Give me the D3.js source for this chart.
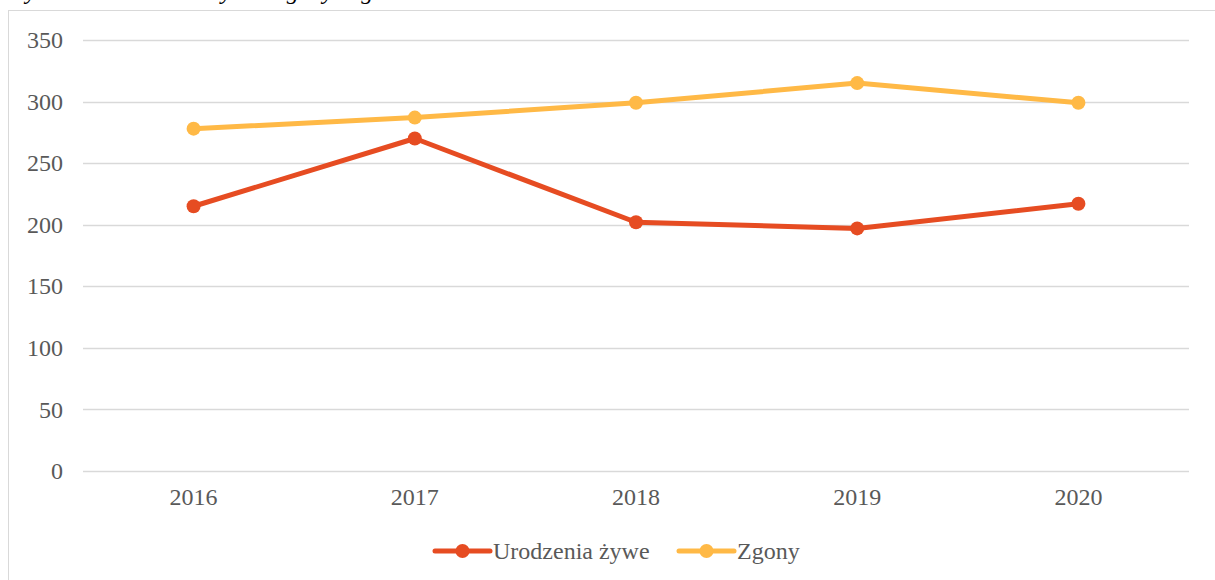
<!DOCTYPE html>
<html>
<head>
<meta charset="utf-8">
<script src="https://cdn.jsdelivr.net/npm/d3@7"></script>
<style>
  body { margin: 0; background: #fff; }
  text { font-family: "Liberation Serif", "Times New Roman", serif; }
</style>
</head>
<body>
<script>
// data
var years = ["2016", "2017", "2018", "2019", "2020"];
var urodzenia = [215, 270, 202, 197, 217];
var zgony = [278, 287, 299, 315, 299];
var yTicks = [0, 50, 100, 150, 200, 250, 300, 350];
var seriesNames = ["Urodzenia żywe", "Zgony"];
var colors = ["#E64C22", "#FFB946"];

var W = 1215, H = 580;
var svg = d3.select("body").append("svg")
  .attr("width", W)
  .attr("height", H);

// cut-off caption above the chart box
svg.append("text")
  .attr("x", 8)
  .attr("y", -1)
  .style("font-style", "italic")
  .style("font-size", "24px")
  .attr("fill", "#000")
  .text("Wykres 1. Urodzenia żywe i zgony w gminie w latach 2016–2020");

// chart border (runs off right and bottom)
svg.append("rect")
  .attr("x", 8.5)
  .attr("y", 10.5)
  .attr("width", W + 10)
  .attr("height", H + 10)
  .attr("fill", "#fff")
  .attr("stroke", "#d9d9d9");

var plotLeft = 83, plotRight = 1189, plotTop = 40, plotBottom = 471;

var x = d3.scaleBand().domain(years).range([plotLeft, plotRight]);
var y = d3.scaleLinear().domain([0, 350]).range([plotBottom, plotTop]);

// gridlines
svg.append("g")
  .selectAll("line")
  .data(yTicks)
  .enter()
  .append("line")
  .attr("x1", plotLeft)
  .attr("x2", plotRight)
  .attr("y1", function(d) { return Math.round(y(d)) + 0.5; })
  .attr("y2", function(d) { return Math.round(y(d)) + 0.5; })
  .attr("stroke", "#d9d9d9")
  .attr("stroke-width", 1.5);

// y axis labels
var yAxis = svg.append("g")
  .attr("transform", "translate(" + (plotLeft - 20) + ",0)")
  .call(d3.axisLeft(y).tickValues(yTicks).tickSize(0).tickPadding(0));
yAxis.select(".domain").remove();
yAxis.selectAll("text")
  .style("font-family", "'Liberation Serif', 'Times New Roman', serif")
  .style("font-size", "24px")
  .attr("fill", "#595959");

// x axis labels
var xAxis = svg.append("g")
  .attr("transform", "translate(0," + (plotBottom + 17) + ")")
  .call(d3.axisBottom(x).tickSize(0).tickPadding(0));
xAxis.select(".domain").remove();
xAxis.selectAll("text")
  .style("font-family", "'Liberation Serif', 'Times New Roman', serif")
  .style("font-size", "24px")
  .attr("fill", "#595959");

var line = d3.line()
  .x(function(d, i) { return x(years[i]) + x.bandwidth() / 2; })
  .y(function(d) { return y(d); });

[urodzenia, zgony].forEach(function(vals, k) {
  svg.append("path")
    .datum(vals)
    .attr("d", line)
    .attr("fill", "none")
    .attr("stroke", colors[k])
    .attr("stroke-width", 5)
    .attr("stroke-linejoin", "round")
    .attr("stroke-linecap", "round");

  svg.selectAll(".dot" + k)
    .data(vals)
    .enter()
    .append("circle")
    .attr("class", "dot" + k)
    .attr("cx", function(d, i) { return x(years[i]) + x.bandwidth() / 2; })
    .attr("cy", function(d) { return y(d); })
    .attr("r", 7)
    .attr("fill", colors[k]);
});

// legend
var legendX = [435, 679];
var legendY = 551;
seriesNames.forEach(function(name, k) {
  var g = svg.append("g").attr("transform", "translate(" + legendX[k] + "," + legendY + ")");
  g.append("line")
    .attr("x1", 0).attr("x2", 55)
    .attr("y1", 0).attr("y2", 0)
    .attr("stroke", colors[k])
    .attr("stroke-width", 5)
    .attr("stroke-linecap", "round");
  g.append("circle")
    .attr("cx", 27.5).attr("cy", 0).attr("r", 7)
    .attr("fill", colors[k]);
  g.append("text")
    .attr("x", 58)
    .attr("y", 8)
    .style("font-size", "24px")
    .attr("fill", "#595959")
    .text(name);
});
</script>
</body>
</html>
